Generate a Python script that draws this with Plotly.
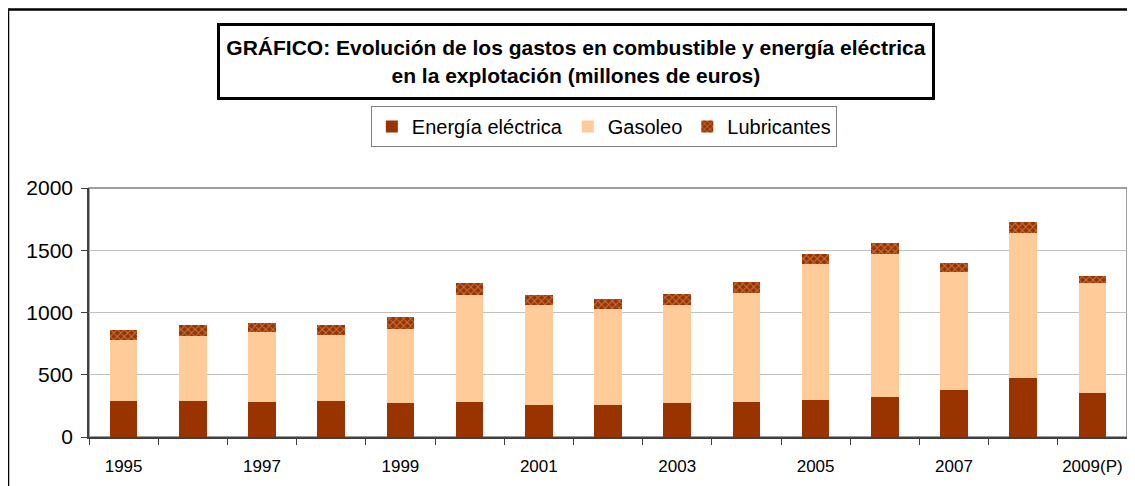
import plotly.graph_objects as go

# Values (millions of euros)
years = ["1995", "1996", "1997", "1998", "1999", "2000", "2001", "2002",
         "2003", "2004", "2005", "2006", "2007", "2008", "2009(P)"]
energia = [286, 286, 278, 286, 270, 278, 254, 254, 270, 278, 294, 318, 374, 471, 350]
gasoleo = [495, 522, 562, 530, 599, 866, 810, 778, 794, 882, 1099, 1155, 955, 1171, 883]
lubricantes = [80, 88, 77, 80, 91, 89, 80, 80, 88, 89, 80, 89, 72, 88, 64]

# only every other year gets a label
tick_text = [y if i % 2 == 0 else "" for i, y in enumerate(years)]

FONT = "Arial, Liberation Sans, sans-serif"

# plot area in figure pixels (page body adds an 8px offset)
L, T, W, H = 81, 180, 1038, 249

fig = go.Figure()
fig.add_trace(go.Bar(x=years, y=energia, name="Energía eléctrica",
                     marker=dict(color="#993300", line=dict(width=0))))
fig.add_trace(go.Bar(x=years, y=gasoleo, name="Gasoleo",
                     marker=dict(color="#FFCC99", line=dict(width=0))))
fig.add_trace(go.Bar(x=years, y=lubricantes, name="Lubricantes",
                     marker=dict(color="#993300", line=dict(width=0),
                                 pattern=dict(shape="x", bgcolor="#993300",
                                              fgcolor="#F5B98C", size=5,
                                              solidity=0.35))))

fig.update_layout(
    width=1135, height=486,
    barmode="stack", bargap=0.6,
    paper_bgcolor="white", plot_bgcolor="white",
    font=dict(family=FONT, color="black"),
    margin=dict(l=L, r=1135 - L - W, t=T, b=486 - T - H, autoexpand=False),
    legend=dict(orientation="h", x=0.496, y=1.247, xanchor="center", yanchor="middle",
                font=dict(size=20), bordercolor="#808080", borderwidth=1,
                bgcolor="white", itemwidth=30, tracegroupgap=0, traceorder="normal"),
    xaxis=dict(type="category", tickmode="array", tickvals=years, ticktext=tick_text,
               tickson="boundaries", ticks="outside", ticklen=6, tickcolor="#404040",
               showline=True, linecolor="#404040", linewidth=2, tickangle=0,
               automargin=False, tickfont=dict(size=17), ticklabelstandoff=13,
               showgrid=False),
    yaxis=dict(range=[0, 2000], dtick=500, ticks="outside", ticklen=6,
               tickcolor="#404040", showline=True, linecolor="#404040", linewidth=1.5,
               gridcolor="#C0C0C0", gridwidth=1, tickfont=dict(size=21),
               automargin=False, ticklabelstandoff=4, zeroline=False),
)

# plot area border (top/right grey)
fig.add_shape(type="rect", xref="x domain", yref="y domain", x0=0, x1=1, y0=0, y1=1,
              line=dict(color="#808080", width=1.5), layer="below")

# outer chart border
fig.add_shape(type="rect", xref="paper", yref="paper",
              x0=(0 - L) / W, x1=1.1, y0=-0.5, y1=(T + H - 1.5) / H,
              line=dict(color="black", width=2.5))

# boxed title
fig.add_annotation(
    xref="paper", yref="paper", x=0.469, y=1.508, xanchor="center", yanchor="middle",
    text="<b>GRÁFICO: Evolución de los gastos en combustible y energía eléctrica<br>"
         "en la explotación (millones de euros)</b>",
    showarrow=False, font=dict(size=21, family=FONT, color="black"),
    bordercolor="black", borderwidth=3, borderpad=0, width=712, height=71,
    bgcolor="white", align="center",
)

fig.write_html("out.html")
